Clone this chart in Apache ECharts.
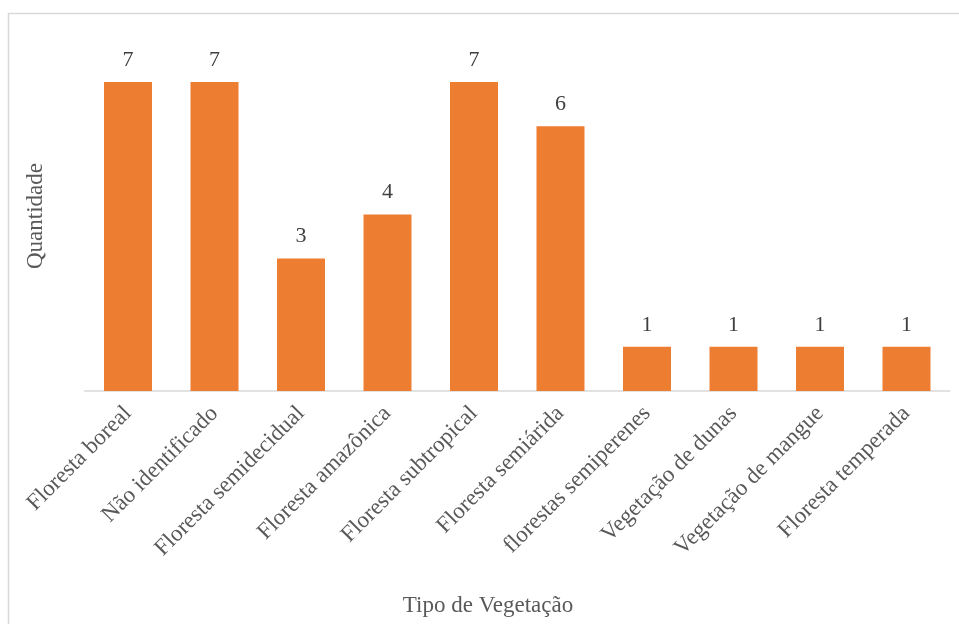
<!DOCTYPE html>
<html>
<head>
<meta charset="utf-8">
<script src="https://cdn.jsdelivr.net/npm/echarts@6/dist/echarts.min.js"></script>
<style>
  html, body { margin: 0; padding: 0; background: #ffffff; }
  #chart { width: 959px; height: 624px; }
</style>
</head>
<body>
<div id="chart"></div>
<script>
// Vegetation types and study counts
const categories = [
  'Floresta boreal',
  'Não identificado',
  'Floresta semidecidual',
  'Floresta amazônica',
  'Floresta subtropical',
  'Floresta semiárida',
  'florestas semiperenes',
  'Vegetação de dunas',
  'Vegetação de mangue',
  'Floresta temperada'
];
const quantities = [7, 7, 3, 4, 7, 6, 1, 1, 1, 1];

const xTitle = 'Tipo de Vegetação';
const yTitle = 'Quantidade';

const serif = '"Liberation Serif", "Times New Roman", serif';
const textColor = '#595959';

const chart = echarts.init(document.getElementById('chart'), null, { renderer: 'canvas' });

chart.setOption({
  animation: false,
  backgroundColor: '#ffffff',
  grid: { left: 84.75, right: 9.25, top: 82, bottom: 233, containLabel: false },
  graphic: [
    {
      type: 'rect',
      shape: { x: 8.5, y: 13.5, width: 1000, height: 1000 },
      style: { fill: 'none', stroke: '#d9d9d9', lineWidth: 1.5 },
      silent: true,
      z: -1
    },
    {
      type: 'text',
      x: 36, y: 216,
      rotation: Math.PI / 2,
      style: {
        text: yTitle, font: '23px ' + serif, fill: textColor,
        align: 'center', verticalAlign: 'middle'
      }
    },
    {
      type: 'text',
      x: 488, y: 606,
      style: {
        text: xTitle, font: '23px ' + serif, fill: textColor,
        align: 'center', verticalAlign: 'middle'
      }
    }
  ],
  xAxis: {
    type: 'category',
    data: categories,
    axisLine: { show: true, lineStyle: { color: '#d9d9d9', width: 1.5 } },
    axisTick: { show: false },
    axisLabel: {
      interval: 0,
      rotate: 45,
      margin: 19,
      color: textColor,
      fontFamily: serif,
      fontSize: 23
    }
  },
  yAxis: {
    type: 'value',
    min: 0,
    max: 7,
    show: false,
    splitLine: { show: false }
  },
  series: [{
    type: 'bar',
    data: quantities,
    barWidth: '55.5%',
    itemStyle: { color: '#ED7D31' },
    label: {
      show: true,
      position: 'top',
      distance: 11,
      color: '#404040',
      fontFamily: serif,
      fontSize: 22
    }
  }]
});
</script>
</body>
</html>
